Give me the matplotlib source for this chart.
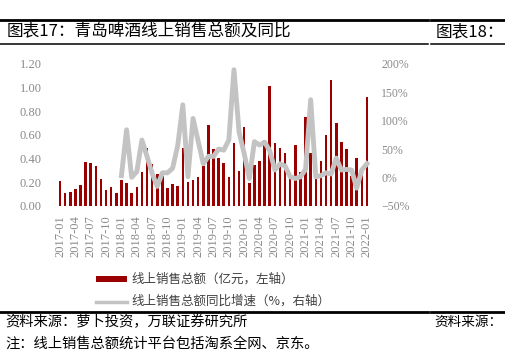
import numpy as np
import matplotlib
matplotlib.use("Agg")
import matplotlib.pyplot as plt
from matplotlib.lines import Line2D
from matplotlib.patches import Rectangle

plt.rcParams['font.family'] = ['Noto Sans CJK SC', 'DejaVu Sans']

# monthly online sales, 2017-01 .. 2022-01 (100m yuan)
months = [f"{y}-{m:02d}" for y in range(2017, 2023) for m in range(1, 13)][:61]
sales = [0.21, 0.11, 0.12, 0.145, 0.175, 0.37, 0.36, 0.335, 0.23, 0.135, 0.16, 0.105,
         0.215, 0.195, 0.105, 0.155, 0.285, 0.49, 0.352, 0.272, 0.25, 0.146, 0.185, 0.166,
         0.49, 0.198, 0.217, 0.244, 0.332, 0.683, 0.48, 0.40, 0.36, 0.24, 0.53, 0.29,
         0.67, 0.19, 0.345, 0.38, 0.556, 1.013, 0.53, 0.49, 0.443, 0.245, 0.514, 0.287,
         0.749, 0.445, 0.23, 0.378, 0.598, 1.065, 0.697, 0.536, 0.483, 0.25, 0.40, 0.30,
         0.917]
# yoy growth (%), 2018-01 .. 2022-01
yoy = [3, 84, 0, 10, 66, 37, 7, -16, 8, 8, 16, 56,
       128, 1, 104, 64, 24, 37, 37, 50, 48, 66, 190, 80,
       42, -2, 63, 57, 62, 47, 13, 24, 20, 1, -2, 1,
       14, 137, 1, 3, 8, 6, 34, 13, 14, 13, -19, 13,
       24]

red = '#9B0000'
grey = '#C3C3C3'
tick_c = '#8A8A8A'
serif = ['Liberation Serif', 'DejaVu Serif']

fig = plt.figure(figsize=(5.06, 3.55), dpi=100)
W, H = 506, 355

def fx(px):
    return px / W

def fy(py):
    return 1 - py / H

ax = fig.add_axes([fx(57), fy(205.7), fx(370) - fx(57), fy(64) - fy(205.7)])
x = np.arange(len(sales))
ax.bar(x, sales, width=0.5, color=red)
ax.set_xlim(-0.6, len(sales) - 0.4)
ax.set_ylim(0, 1.2)
ax.set_yticks(np.arange(0, 1.21, 0.2))
ax.set_yticklabels([f"{v:.2f}" for v in np.arange(0, 1.21, 0.2)], family=serif,
                   fontsize=9, color=tick_c)
ax.set_xticks(x[::3])
ax.set_xticklabels(months[::3], rotation=90, family=serif, fontsize=9, color=tick_c)
ax.tick_params(axis='both', length=0)
ax.tick_params(axis='y', pad=11)
ax.tick_params(axis='x', pad=7)
for s in ax.spines.values():
    s.set_visible(False)

ax2 = ax.twinx()
ax2.plot(x[12:], yoy, color=grey, lw=3.5, solid_joinstyle='round')
ax2.set_ylim(-50, 200)
ax2.set_yticks(range(-50, 201, 50))
ax2.set_yticklabels([f"{v}%".replace('-', '\u2212') for v in range(-50, 201, 50)],
                    family=serif, fontsize=8.5, color=tick_c)
ax2.tick_params(axis='y', length=0, pad=8)
for s in ax2.spines.values():
    s.set_visible(False)

# header / footer rules
for (x0, x1) in [(0, 428), (431, 506)]:
    fig.add_artist(Line2D([fx(x0), fx(x1)], [fy(19.5), fy(19.5)], color='black', lw=2))
    fig.add_artist(Line2D([fx(x0), fx(x1)], [fy(43.5), fy(43.5)], color='black', lw=1.1))
    fig.add_artist(Line2D([fx(x0), fx(x1)], [fy(311.5), fy(311.5)], color='black', lw=2))

fig.text(fx(7), fy(31.5), "图表17：青岛啤酒线上销售总额及同比", fontsize=12,
         va='center', ha='left', color='black')
fig.text(fx(436), fy(31.5), "图表18：", fontsize=12, va='center', ha='left', color='black')

# legend
fig.add_artist(Rectangle((fx(96), fy(281.5)), fx(127) - fx(96), fy(276.5) - fy(281.5),
                         color=red, lw=0))
fig.text(fx(131), fy(279), "线上销售总额（亿元，左轴）", fontsize=9, va='center',
         color='#404040')
fig.add_artist(Line2D([fx(96), fx(127)], [fy(301.5), fy(301.5)], color=grey, lw=2.5))
fig.text(fx(131), fy(301.5), "线上销售总额同比增速（%，右轴）", fontsize=9, va='center',
         color='#404040')

fig.text(fx(5), fy(322), "资料来源：萝卜投资，万联证券研究所", fontsize=10.3, va='center',
         color='black')
fig.text(fx(434), fy(322), "资料来源：", fontsize=9.8, va='center', color='black')
fig.text(fx(5), fy(336.5), "注：线上销售总额统计平台包括淘系全网、京东。", fontsize=10.3,
         va='top', color='black')

fig.savefig("out.png", dpi=100)
